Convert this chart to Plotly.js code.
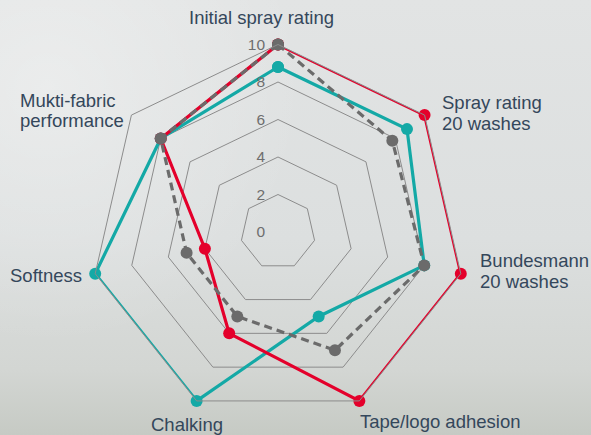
<!DOCTYPE html>
<html>
<head>
<meta charset="utf-8">
<script src="https://cdn.plot.ly/plotly-3.0.1.min.js"></script>
<style>
html,body{margin:0;padding:0;}
body{width:591px;height:435px;overflow:hidden;
background:
 radial-gradient(circle at 8% 20%, rgba(255,255,255,0.35) 0, rgba(255,255,255,0) 40%),
 linear-gradient(180deg,#e2e4e4 0%,#dcdfdf 55%,#d3d6d3 85%,#c6cac4 100%);}
#chart{width:591px;height:435px;}
</style>
</head>
<body>
<div id="chart"></div>
<script>
var categories = ["Initial spray rating","Spray rating 20 washes","Bundesmann 20 washes","Tape/logo adhesion","Chalking","Softness","Mukti-fabric performance"];
var redValues  = [10, 10, 10, 10, 6, 4, 8];
var tealValues = [8.8, 8.8, 8, 5, 10, 10, 8];
var grayValues = [10, 7.8, 8, 7, 5, 5, 8];
var radialTicks = [0, 2, 4, 6, 8, 10];

function closed(a){ return a.concat([a[0]]); }
var theta = closed(categories);

var traces = [
 {type:'scatterpolar', r: closed(tealValues), theta: theta, mode:'lines+markers',
  line:{color:'#14a9a6', width:3.2}, marker:{color:'#14a9a6', size:12}, hoverinfo:'skip'},
 {type:'scatterpolar', r: closed(redValues), theta: theta, mode:'lines+markers',
  line:{color:'#e4002b', width:3.2}, marker:{color:'#e4002b', size:12}, hoverinfo:'skip'},
 {type:'scatterpolar', r: closed(grayValues), theta: theta, mode:'lines+markers',
  line:{color:'#6b6b6b', width:3.2, dash:'8px,5px'}, marker:{color:'#6b6b6b', size:12}, hoverinfo:'skip'}
];

var W = 591, H = 435;
var cx = 278, cy = 232, R = 187.5;

var labelFont = {family:'Liberation Sans, Arial, sans-serif', size:18.5, color:'#34475b'};
function ann(text, px, py, xanchor){
  return {text:text, xref:'paper', yref:'paper', x:px/W, y:1-py/H,
    xanchor:xanchor||'left', yanchor:'middle', showarrow:false, font:labelFont, borderpad:0};
}
var annotations = [
 ann('Initial spray rating', 261, 17.6, 'center'),
 ann('Mukti-fabric', 19, 100.6),
 ann('performance', 19, 120.6),
 ann('Spray rating', 441, 102.6),
 ann('20 washes', 441, 123.6),
 ann('Bundesmann', 479, 260.6),
 ann('20 washes', 479, 281.6),
 ann('Softness', 9, 275.6),
 ann('Chalking', 150, 424.3),
 ann('Tape/logo adhesion', 359, 421.6)
];

var layout = {
 width: W, height: H,
 margin:{l:0,r:0,t:0,b:0},
 paper_bgcolor:'rgba(0,0,0,0)',
 plot_bgcolor:'rgba(0,0,0,0)',
 showlegend:false,
 polar:{
  domain:{x:[(cx-R)/W,(cx+R)/W], y:[(H-(cy+R))/H,(H-(cy-R))/H]},
  bgcolor:'rgba(0,0,0,0)',
  gridshape:'linear',
  radialaxis:{range:[0,10], tickvals: radialTicks, ticktext: radialTicks.map(String),
   angle:90, side:'counterclockwise', tickangle:90,
   showline:false, ticks:'outside', ticklen:7, tickcolor:'rgba(0,0,0,0)',
   gridcolor:'#8c8c8c', gridwidth:1,
   tickfont:{family:'Liberation Sans, Arial, sans-serif', size:15.5, color:'#6e6e6e'}},
  angularaxis:{rotation:90, direction:'clockwise', showticklabels:false, ticks:'',
   showgrid:false, showline:true, linecolor:'#8c8c8c', linewidth:1}
 },
 annotations: annotations
};

Plotly.newPlot('chart', traces, layout, {displayModeBar:false, staticPlot:true});
</script>
</body>
</html>
